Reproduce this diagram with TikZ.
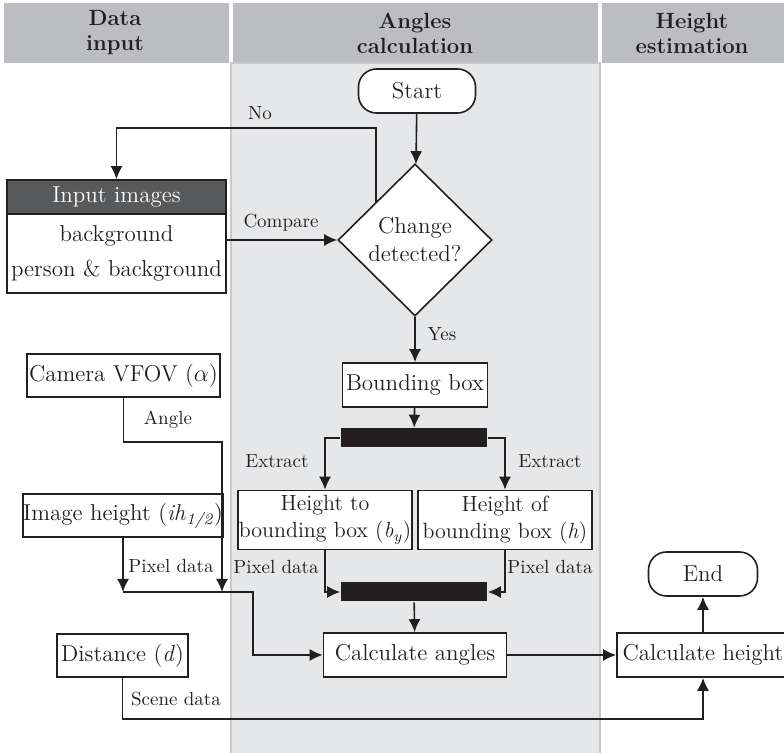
\documentclass[tikz,border=0pt]{standalone}
\usetikzlibrary{shapes.geometric,arrows.meta}
\definecolor{linie}{HTML}{231F20}
\definecolor{kopfgrau}{HTML}{BCBDC0}
\definecolor{bahn}{HTML}{E6E7E8}
\definecolor{bahnrand}{HTML}{C8C9CB}
\definecolor{dunkel}{HTML}{58595B}
\begin{document}
\begin{tikzpicture}[x=0.5pt,y=-0.5pt,line width=0.8pt,color=linie,
  >={Latex[length=6.5pt,width=6pt]},
  proc/.style={draw,fill=white,inner sep=0pt,align=center,font=\fontsize{11.5}{14}\selectfont},
  term/.style={proc,rounded corners=9pt,minimum height=22pt},
  decide/.style={proc,diamond,minimum width=77pt,minimum height=76pt},
  bar/.style={fill=linie,minimum width=73pt,minimum height=9.5pt,inner sep=0pt},
  lbl/.style={inner sep=0pt,font=\fontsize{9.5}{11}\selectfont},
  head/.style={align=center,font=\bfseries\fontsize{11}{12.5}\selectfont}]
\useasboundingbox (0,0) rectangle (784,753);
\def\pfeil#1#2{
\draw[->] #1 -- #2;
}
\fill[kopfgrau] (4,3) rectangle (229,63);
\fill[kopfgrau] (233,3) rectangle (598,63);
\fill[kopfgrau] (602,3) rectangle (784,63);
\filldraw[fill=bahn,draw=bahnrand,line width=0.6pt] (231,63) rectangle (600,770);
\node[head] (kopf1) at (115,33) {Data\\input};
\node[head] (kopf2) at (415,33) {Angles\\calculation};
\node[head] (kopf3) at (692,33) {Height\\estimation};

\node[term,minimum width=58.5pt] (start) at (417,91) {Start};
\node[decide] (change) at (415,240) {Change\\detected?};
\node[proc,minimum width=72.5pt,minimum height=22pt] (bbox) at (415,385) {Bounding box};
\node[bar] (split) at (414,438) {};
\node[proc,font=\fontsize{11}{13.5}\selectfont,minimum width=87pt,minimum height=29.5pt] (hto) at (325,520) {Height to\\bounding box (\textit{b}\textsubscript{\textit{y}})};
\node[proc,font=\fontsize{11}{13.5}\selectfont,minimum width=87pt,minimum height=29.5pt] (hof) at (505,520) {Height of\\bounding box (\textit{h})};
\node[bar] (join) at (414,592) {};
\node[proc,minimum width=91.5pt,minimum height=22pt] (calcA) at (415,655) {Calculate angles};
\node[proc,minimum width=86pt,minimum height=22pt] (calcH) at (703,655) {Calculate height};
\node[term,minimum width=54.5pt] (end) at (703,574) {End};

\node[proc,fill=dunkel,text=white,minimum width=109.5pt,minimum height=17pt] (inhead) at (116.5,197) {Input images};
\node[proc,minimum width=109.5pt,minimum height=39.5pt] (inbody) at (116.5,253.5) {background\\[3.5pt]person \& background};
\node[proc,minimum width=96.5pt,minimum height=21.5pt] (cam) at (123.5,375.5) {Camera VFOV ($\alpha$)};
\node[proc,minimum width=93pt,minimum height=21.5pt] (img) at (123,515.5) {Image height (\textit{ih}\textsubscript{\textit{1/2}})};
\node[proc,minimum width=65.5pt,minimum height=21.5pt] (dist) at (122.5,655.5) {Distance (\textit{d})};

\coordinate (noback) at (116.5,128);
\coordinate (angle) at (222,442);
\coordinate (jr) at (222,592);
\coordinate (jl) at (123,592);
\coordinate (jturn) at (253,592);
\coordinate (scene) at (703,719);

\pfeil{(start)}{(change)}
\pfeil{(change)}{(bbox)}
\pfeil{(bbox)}{(split)}
\pfeil{(join)}{(calcA)}
\pfeil{(calcA)}{(calcH)}
\pfeil{(calcH)}{(end)}
\pfeil{(change.west -| inbody.east)}{(change.west)}
\draw[->] (change.north west) |- (noback) -- (inhead.north);
\draw[->] (split.west) -| (hto.north);
\draw[->] (split.east) -| (hof.north);
\draw[->] (hto.south) |- (join.west);
\draw[->] (hof.south) |- (join.east);
\draw[->] (cam.south) |- (angle) -- (jr);
\draw[->] (img.south) -- (jl);
\draw[->] (jl) -- (jturn) |- (calcA.west);
\draw[->] (dist.south) |- (scene) -- (calcH.south);

\node[lbl] (lno) at (260,113) {No};
\node[lbl] (lcompare) at (281,223) {Compare};
\node[lbl] (lyes) at (442,334) {Yes};
\node[lbl] (lextract1) at (277,461) {Extract};
\node[lbl] (lextract2) at (550,461) {Extract};
\node[lbl] (langle) at (168,420) {Angle};
\node[lbl] (lpixel1) at (171,566) {Pixel data};
\node[lbl] (lpixel2) at (276,567) {Pixel data};
\node[lbl] (lpixel3) at (550,567) {Pixel data};
\node[lbl] (lscene) at (176,699) {Scene data};
\end{tikzpicture}
\end{document}
